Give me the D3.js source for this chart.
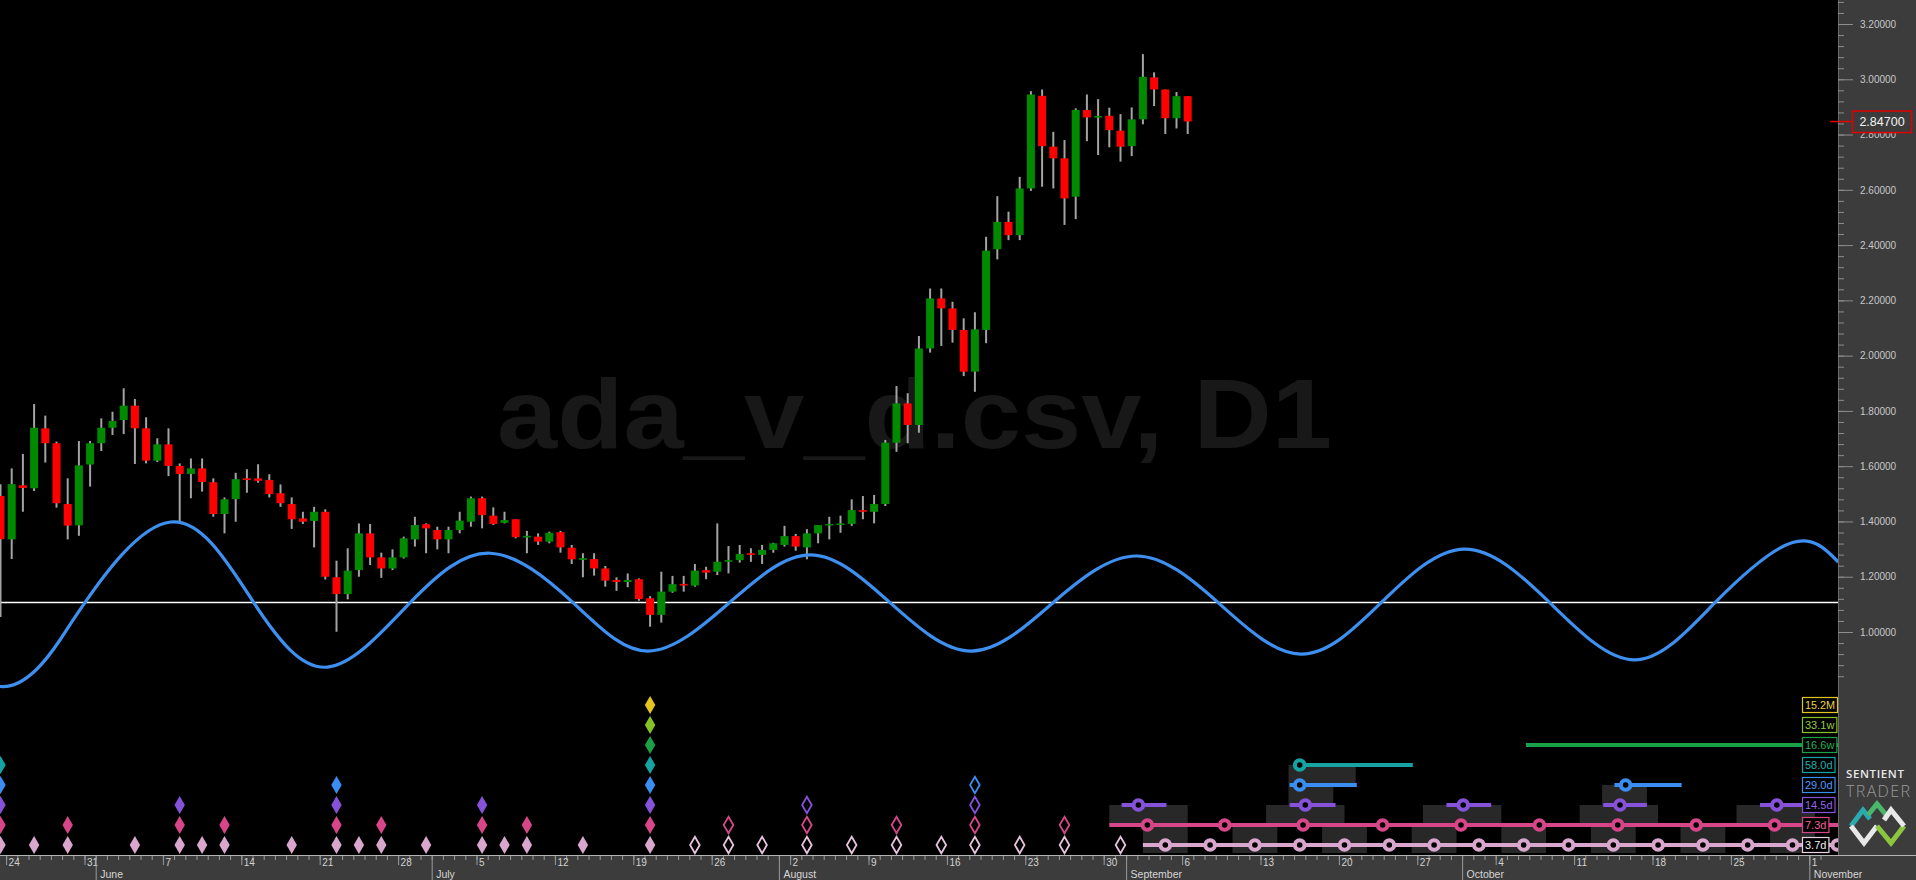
<!DOCTYPE html>
<html><head><meta charset="utf-8">
<script src="https://cdn.jsdelivr.net/npm/d3@7"></script>
<style>html,body{margin:0;padding:0;background:#000;overflow:hidden}svg{display:block}</style>
</head><body>
<svg id="c" width="1916" height="880"></svg>
<script>
// ---------------- DATA ----------------
const firstCandle = "2021-05-23";
const opens  = [1.492,1.335,1.531,1.520,1.737,1.683,1.463,1.386,1.606,1.683,1.739,1.767,1.819,1.737,1.620,1.679,1.601,1.572,1.592,1.542,1.427,1.481,1.556,1.556,1.550,1.502,1.463,1.411,1.402,1.435,1.198,1.137,1.224,1.357,1.270,1.230,1.270,1.335,1.390,1.369,1.335,1.369,1.399,1.484,1.421,1.395,1.408,1.345,1.345,1.327,1.361,1.305,1.261,1.264,1.230,1.188,1.181,1.191,1.122,1.062,1.146,1.174,1.168,1.224,1.218,1.254,1.260,1.285,1.279,1.297,1.315,1.347,1.306,1.357,1.386,1.390,1.391,1.441,1.435,1.463,1.685,1.827,1.749,2.026,2.207,2.171,2.093,1.942,2.093,2.385,2.484,2.436,2.605,2.940,2.756,2.714,2.575,2.889,2.864,2.868,2.814,2.758,2.855,3.007,2.963,2.859,2.939];
const highs  = [1.535,1.592,1.644,1.825,1.783,1.689,1.556,1.691,1.691,1.773,1.797,1.882,1.843,1.777,1.701,1.737,1.610,1.628,1.628,1.556,1.487,1.576,1.589,1.607,1.571,1.534,1.487,1.435,1.453,1.444,1.258,1.303,1.393,1.391,1.287,1.299,1.345,1.417,1.393,1.381,1.381,1.435,1.490,1.490,1.451,1.435,1.408,1.366,1.357,1.363,1.366,1.315,1.285,1.285,1.239,1.198,1.212,1.194,1.130,1.218,1.203,1.203,1.246,1.236,1.393,1.311,1.315,1.303,1.315,1.323,1.384,1.355,1.372,1.387,1.417,1.421,1.480,1.492,1.496,1.695,1.890,1.864,2.071,2.243,2.243,2.195,2.135,2.157,2.430,2.577,2.521,2.647,2.957,2.963,2.810,2.780,2.895,2.945,2.928,2.897,2.874,2.898,3.091,3.025,2.963,2.954,2.939];
const lows   = [1.054,1.264,1.435,1.510,1.613,1.450,1.335,1.348,1.526,1.655,1.713,1.716,1.608,1.610,1.615,1.564,1.399,1.484,1.508,1.417,1.357,1.399,1.504,1.540,1.487,1.453,1.373,1.391,1.306,1.190,1.001,1.118,1.200,1.242,1.196,1.224,1.266,1.309,1.285,1.299,1.285,1.357,1.381,1.375,1.387,1.393,1.339,1.285,1.315,1.321,1.287,1.246,1.198,1.204,1.164,1.149,1.162,1.113,1.019,1.034,1.142,1.146,1.164,1.191,1.206,1.212,1.251,1.254,1.246,1.287,1.309,1.294,1.263,1.321,1.335,1.359,1.384,1.408,1.393,1.456,1.652,1.683,1.721,2.011,2.035,2.047,1.926,1.869,2.045,2.348,2.418,2.418,2.596,2.611,2.605,2.473,2.494,2.776,2.726,2.754,2.702,2.722,2.837,2.903,2.802,2.822,2.802];
const closes = [1.336,1.535,1.521,1.739,1.683,1.466,1.385,1.603,1.683,1.739,1.764,1.819,1.737,1.620,1.679,1.601,1.572,1.592,1.543,1.427,1.480,1.553,1.551,1.547,1.499,1.466,1.408,1.399,1.435,1.200,1.137,1.222,1.357,1.270,1.230,1.270,1.339,1.387,1.375,1.335,1.369,1.403,1.484,1.423,1.391,1.405,1.343,1.348,1.327,1.359,1.306,1.263,1.267,1.230,1.186,1.181,1.188,1.119,1.062,1.146,1.173,1.169,1.222,1.215,1.254,1.260,1.282,1.279,1.297,1.321,1.347,1.309,1.357,1.387,1.391,1.393,1.441,1.435,1.463,1.685,1.827,1.749,2.026,2.207,2.171,2.093,1.942,2.095,2.380,2.484,2.436,2.605,2.945,2.758,2.714,2.569,2.889,2.862,2.867,2.816,2.756,2.855,3.009,2.963,2.859,2.939,2.847];
const lastPrice = 2.847;
const midLine = 1.107;

// composite cycle line (day offset from 2021-05-24, price)
const cycleDays   = [-8.7,-1.1,4.31,6.55,14.2,21.6,28.2,35.6,42.7,50.1,56.8,64.1,71.3,78.4,85.7,93.0,100.4,107.7,115.1,122.3,129.7,137.3,144.9,152.1,159.0,163.1];
const cycleValues = [1.107,0.803,0.971,1.107,1.398,1.107,0.873,1.107,1.285,1.107,0.931,1.107,1.279,1.107,0.931,1.107,1.275,1.107,0.920,1.107,1.300,1.107,0.899,1.107,1.324,1.253];

// cycle rows
const cycleNames  = ["3.7d","7.3d","14.5d","29.0d","58.0d","16.6w","33.1w","15.2M"];
const cycleColors = ["#d9a6cd","#d8468a","#8752da","#3a8ef2","#15a3a3","#1aa046","#86c227","#e6c41f"];
const labelColors = ["#f2f2f2","#f0609a","#9466ee","#4d9cff","#20b0b0","#26b055","#95cf38","#f0d040"];

// trough diamonds: day offset + number of stacked cycles
const pastDiamondDays   = [-1,2,5,11,15,17,19,25,29,31,33,37,42,44,46,51,57];
const pastDiamondDepth  = [5,1,2,1,3,1,2,1,4,1,2,1,3,1,2,1,8];
const openDiamondDays   = [61,64,67,71,75,79,83,86,90,94,99];
const openDiamondDepth  = [1,2,1,3,1,2,1,4,1,2,1];

// projections (day offsets)
const projSegments = [
  [[101,166]],
  [[98,166]],
  [[99.1,103.1],[114.1,118.2],[128.1,132.1],[142.1,146.0],[156.1,160.1]],
  [[114.1,120.1],[143.1,149.1]],
  [[114.6,125.1]],
  [[135.2,166]]
];
const projCircles = [
  [103,107,111,115,119,123,127,131,135,139,143,147,151,155,159,163],
  [101.4,108.3,115.3,122.4,129.4,136.4,143.4,150.4,157.4],
  [100.6,115.5,129.6,143.6,157.6],
  [115.0,144.1],
  [115.0],
  []
];
const projBoxes = [
  [[101,105],[109,113],[117,121],[125,129],[133,137],[141,145],[149,153],[157,161]],
  [[98,105],[112,119],[126,133],[140,147],[154,161]],
  [[114,118],[142,146]],
  [[114,120]]
];

const priceTicks = [1.0,1.2,1.4,1.6,1.8,2.0,2.2,2.4,2.6,2.8,3.0,3.2];
const weekLabels = ["24","31","7","14","21","28","5","12","19","26","2","9","16","23","30","6","13","20","27","4","11","18","25","1"];
const monthLabels = ["June","July","August","September","October","November"];
const watermark = "ada_v_d.csv, D1";

// ---------------- SCALES ----------------
const DAY = 864e5;
const base = Date.UTC(2021,4,24);
const dayDate = d => new Date(base + d*DAY);
const x = d3.scaleUtc().domain([dayDate(0), dayDate(161)]).range([6.1, 6.1 + 161*11.2]);
const cx = d => x(dayDate(d + 0.5));
const y = d3.scaleLinear().domain([1, 3.2]).range([632, 24]);
const plotW = 1838, axisY = 855;
const rowY = r => 845 - 20*r;
const font = "'Liberation Sans', Arial, sans-serif";

const svg = d3.select("#c");
svg.append("rect").attr("width",1916).attr("height",880).attr("fill","#000");
svg.append("defs").append("clipPath").attr("id","plot")
  .append("rect").attr("x",0).attr("y",0).attr("width",plotW).attr("height",axisY);
const plot = svg.append("g").attr("clip-path","url(#plot)");

// watermark
plot.append("text").attr("x",497).attr("y",448).text(watermark)
  .attr("font-family",font).attr("font-weight","bold").attr("font-size",98)
  .attr("fill","#181818").attr("textLength",835).attr("lengthAdjust","spacingAndGlyphs");

// mid line
plot.append("line").attr("x1",0).attr("x2",plotW).attr("y1",y(midLine)).attr("y2",y(midLine))
  .attr("stroke","#fff").attr("stroke-width",1.4);

// candles
const dates = d3.utcDay.range(new Date(firstCandle+"T00:00:00Z"), new Date(Date.UTC(2021,8,7)));
const candles = dates.map((dt,i)=>({t:new Date(+dt + DAY/2), o:opens[i], h:highs[i], l:lows[i], c:closes[i]}));
const cg = plot.append("g");
cg.selectAll("line.w").data(candles).join("line")
  .attr("x1",d=>x(d.t)).attr("x2",d=>x(d.t)).attr("y1",d=>y(d.h)).attr("y2",d=>y(d.l))
  .attr("stroke","#a3a3a3").attr("stroke-width",2);
cg.selectAll("rect.b").data(candles).join("rect")
  .attr("x",d=>x(d.t)-4).attr("width",8)
  .attr("y",d=>y(Math.max(d.o,d.c)))
  .attr("height",d=>Math.max(1.6, Math.abs(y(d.o)-y(d.c))))
  .attr("fill",d=>d.c>=d.o ? "#008a00" : "#ff0000");

// cycle curve
const line = d3.line().x((d,i)=>cx(cycleDays[i])).y(d=>y(d)).curve(d3.curveNatural);
plot.append("path").attr("d",line(cycleValues)).attr("fill","none")
  .attr("stroke","#3d8ff0").attr("stroke-width",3.2);

// projection boxes
projBoxes.forEach((boxes,r)=>{
  plot.selectAll(null).data(boxes).join("rect")
    .attr("x",b=>cx(b[0])).attr("width",b=>cx(b[1])-cx(b[0]))
    .attr("y",rowY(r)-20).attr("height", r===0 ? 28 : 20)
    .attr("fill","#282828");
});

// diamonds
const diamond = d3.symbol(d3.symbolDiamond, 94);
pastDiamondDays.forEach((d,k)=>{
  d3.range(pastDiamondDepth[k]).forEach(r=>{
    plot.append("path").attr("d",diamond()).attr("transform",`translate(${cx(d)},${rowY(r)})`)
      .attr("fill",cycleColors[r]);
  });
});
const diamondO = d3.symbol(d3.symbolDiamond, 80);
openDiamondDays.forEach((d,k)=>{
  d3.range(openDiamondDepth[k]).forEach(r=>{
    plot.append("path").attr("d",diamondO()).attr("transform",`translate(${cx(d)},${rowY(r)})`)
      .attr("fill","none").attr("stroke", r===0 ? "#e6c3de" : cycleColors[r]).attr("stroke-width",1.8);
  });
});

// projection lines + circles
projSegments.forEach((segs,r)=>{
  plot.selectAll(null).data(segs).join("line")
    .attr("x1",s=>cx(s[0])).attr("x2",s=>cx(s[1])).attr("y1",rowY(r)).attr("y2",rowY(r))
    .attr("stroke",cycleColors[r]).attr("stroke-width",4);
});
projCircles.forEach((cs,r)=>{
  plot.selectAll(null).data(cs).join("circle")
    .attr("cx",d=>cx(d)).attr("cy",rowY(r)).attr("r",4.8)
    .attr("fill","#000").attr("stroke",cycleColors[r]).attr("stroke-width",4);
});

// legend boxes
cycleNames.forEach((n,r)=>{
  const g = plot.append("g");
  const bg = g.append("rect");
  const t = g.append("text").attr("x",1805).attr("y",rowY(r)+4).text(n)
    .attr("font-family",font).attr("font-size",11).attr("fill",labelColors[r]);
  let w = t.node().getComputedTextLength();
  if (w > 30) { t.attr("textLength",30).attr("lengthAdjust","spacingAndGlyphs"); w = 30; }
  bg.attr("x",1802.5).attr("y",rowY(r)-7.5).attr("width",w+5).attr("height",15)
    .attr("fill","#000").attr("stroke",r===0?"#e8d0e2":cycleColors[r]).attr("stroke-width",1.2);
});

// ---------------- TIME AXIS ----------------
svg.append("rect").attr("x",0).attr("y",axisY).attr("width",1916).attr("height",25).attr("fill","#3c3c3c");
const dayAxis = d3.axisBottom(x).tickValues(d3.utcDay.range(dayDate(-1), dayDate(163))).tickSize(5).tickFormat("");
const gDay = svg.append("g").attr("transform",`translate(0,${axisY})`).call(dayAxis);
const weeks = d3.utcMonday.range(dayDate(0), dayDate(162));
const weekAxis = d3.axisBottom(x).tickValues(weeks).tickSize(10).tickFormat((d,i)=>weekLabels[i]);
const gWeek = svg.append("g").attr("transform",`translate(0,${axisY})`).call(weekAxis);
const months = d3.utcMonth.range(dayDate(1), dayDate(162));
const monthAxis = d3.axisBottom(x).tickValues(months).tickSize(25).tickFormat((d,i)=>monthLabels[i]);
const gMonth = svg.append("g").attr("transform",`translate(0,${axisY})`).call(monthAxis);
[gDay,gWeek,gMonth].forEach(g=>{
  g.select(".domain").remove();
  g.selectAll(".tick line").attr("stroke","#9a9a9a");
});
gWeek.selectAll("text").attr("text-anchor","start").attr("x",2).attr("y",11).attr("dy",0)
  .attr("font-family",font).attr("font-size",10).attr("fill","#d2d2d2");
gMonth.selectAll("text").attr("text-anchor","start").attr("x",4).attr("y",22.5).attr("dy",0)
  .attr("font-family",font).attr("font-size",10.5).attr("fill","#d6d6d6");
svg.append("line").attr("x1",0).attr("x2",1916).attr("y1",axisY+0.5).attr("y2",axisY+0.5).attr("stroke","#b4b4b4");

// ---------------- PRICE AXIS ----------------
svg.append("rect").attr("x",plotW).attr("y",0).attr("width",1916-plotW).attr("height",axisY).attr("fill","#3c3c3c");
svg.append("line").attr("x1",plotW+0.5).attr("x2",plotW+0.5).attr("y1",0).attr("y2",axisY).attr("stroke","#6a6a6a");
const minor = d3.range(84, 329, 4).map(v=>v/100);
const gMinor = svg.append("g").attr("transform",`translate(${plotW},0)`)
  .call(d3.axisRight(y).tickValues(minor).tickSize(6).tickFormat(""));
const gMajor = svg.append("g").attr("transform",`translate(${plotW},0)`)
  .call(d3.axisRight(y).tickValues(priceTicks).tickSize(15).tickPadding(7).tickFormat(d3.format(".5f")));
[gMinor,gMajor].forEach(g=>{ g.select(".domain").remove(); g.selectAll(".tick line").attr("stroke","#8c8c8c"); });
gMajor.selectAll("text").attr("font-family",font).attr("font-size",10).attr("fill","#c8c8c8");

// last price marker
svg.append("line").attr("x1",1830).attr("x2",1853).attr("y1",y(lastPrice)).attr("y2",y(lastPrice))
  .attr("stroke","#e00000").attr("stroke-width",1.5);
svg.append("rect").attr("x",1852.5).attr("y",y(lastPrice)-10.5).attr("width",59).attr("height",21.5)
  .attr("fill","#3c3c3c").attr("stroke","#e00000").attr("stroke-width",1.5);
svg.append("text").attr("x",1882).attr("y",y(lastPrice)+4.5).attr("text-anchor","middle")
  .text(d3.format(".5f")(lastPrice)).attr("font-family",font).attr("font-size",12.5).attr("fill","#f4f4f4");

// brand
svg.append("text").attr("x",1846).attr("y",778).text("SENTIENT")
  .attr("font-family","'Open Sans', sans-serif").attr("font-weight",600).attr("font-size",11.5)
  .attr("fill","#e8e8e8").attr("textLength",58).attr("lengthAdjust","spacing");
svg.append("text").attr("x",1846).attr("y",797).text("TRADER")
  .attr("font-family","'Open Sans', sans-serif").attr("font-weight",300).attr("font-size",16)
  .attr("fill","#9a9a9a").attr("textLength",64).attr("lengthAdjust","spacing");
const logo = svg.append("g").attr("fill","none").attr("stroke-width",5).attr("stroke-linejoin","miter");
logo.append("path").attr("d","M1851,826 L1863,810 L1870,819").attr("stroke","#2aa9ae");
logo.append("path").attr("d","M1851,826 L1864,843 L1877,826").attr("stroke","#e8e8e8");
logo.append("path").attr("d","M1868,815 L1877,804 L1887,816").attr("stroke","#49b86a");
logo.append("path").attr("d","M1877,826 L1891,843 L1904,826").attr("stroke","#8cc63f");
logo.append("path").attr("d","M1884,820 L1891,810 L1904,826").attr("stroke","#e8e8e8");
</script>
</body></html>
